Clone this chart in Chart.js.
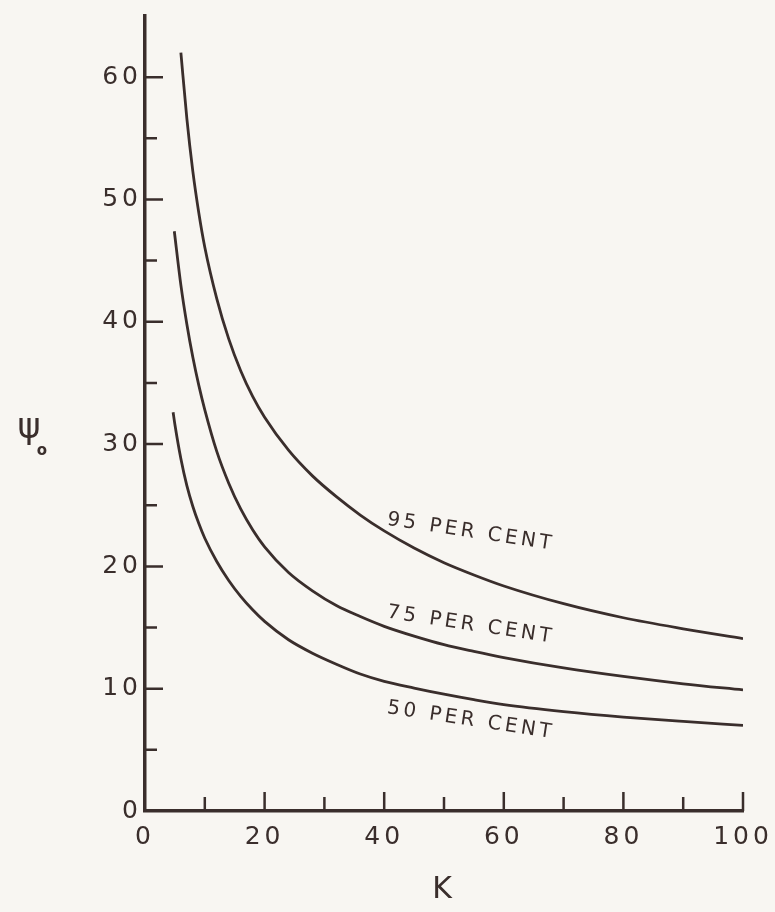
<!DOCTYPE html>
<html>
<head>
<meta charset="utf-8">
<script src="https://cdn.jsdelivr.net/npm/chart.js@4.4.1/dist/chart.umd.min.js"></script>
<style>
html, body { margin: 0; padding: 0; background: #f8f6f2; }
#wrap { width: 775px; height: 912px; }
</style>
</head>
<body>
<div id="wrap"><canvas id="psiChart" width="775" height="912"></canvas></div>
<script>
// values
const k95 = [6, 7, 8, 9, 10, 12, 14, 16, 18, 20, 24, 28, 32, 36, 40, 45, 50, 55, 60, 70, 80, 90, 100];
const psi95 = [62.0, 56.6, 52.3, 48.9, 46.1, 41.9, 38.6, 36.0, 33.9, 32.2, 29.5, 27.4, 25.7, 24.2, 22.9, 21.5, 20.3, 19.3, 18.4, 16.95, 15.8, 14.9, 14.1];

const k75 = [4.9, 6, 7, 8, 9, 10, 12, 14, 16, 18, 20, 24, 28, 32, 36, 40, 45, 50, 55, 60, 70, 80, 90, 100];
const psi75 = [47.4, 43.0, 39.8, 37.1, 34.8, 32.8, 29.4, 26.8, 24.7, 23.0, 21.6, 19.5, 18.0, 16.8, 15.9, 15.1, 14.3, 13.6, 13.05, 12.55, 11.7, 11.0, 10.4, 9.9];

const k50 = [4.7, 5, 6, 7, 8, 9, 10, 12, 14, 16, 18, 20, 24, 28, 32, 36, 40, 45, 50, 55, 60, 70, 80, 90, 100];
const psi50 = [32.6, 31.6, 28.8, 26.6, 24.9, 23.5, 22.3, 20.4, 18.85, 17.55, 16.45, 15.5, 14.0, 12.9, 12.0, 11.2, 10.6, 10.05, 9.55, 9.1, 8.7, 8.13, 7.68, 7.32, 7.0];

const xTickLabels = [0, 20, 40, 60, 80, 100];
const xMinorTicks = [10, 30, 50, 70, 90];
const yTickLabels = [0, 10, 20, 30, 40, 50, 60];
const yMinorTicks = [5, 15, 25, 35, 45, 55];

const curveNames = ['95 PER CENT', '75 PER CENT', '50 PER CENT'];
const nameK = [54.5, 54.5, 54.5];
const namePsi = [22.8, 15.2, 7.4];

const ink = '#3a2e2c';
const paper = '#f8f6f2';
const font = '"DejaVu Sans", sans-serif';

function pts(ks, ps) {
    return ks.map((k, i) => ({ x: k, y: ps[i] }));
}

const paperBg = {
    id: 'paperBg',
    beforeDraw(chart) {
        const c = chart.ctx;
        c.save();
        c.fillStyle = paper;
        c.fillRect(0, 0, chart.width, chart.height);
        c.restore();
        // wide lettering for the tick labels
        c.letterSpacing = '4px';
    }
};

// inward tick marks, curve names and the psi label
const decorations = {
    id: 'decorations',
    afterDraw(chart) {
        const c = chart.ctx;
        const xs = chart.scales.x, ys = chart.scales.y;
        const left = chart.chartArea.left, bottom = chart.chartArea.bottom;
        c.save();
        c.strokeStyle = ink;
        c.lineWidth = 2.5;
        c.lineCap = 'butt';
        c.beginPath();
        xTickLabels.slice(1).forEach(v => {
            const px = xs.getPixelForValue(v);
            c.moveTo(px, bottom); c.lineTo(px, bottom - 19);
        });
        xMinorTicks.forEach(v => {
            const px = xs.getPixelForValue(v);
            c.moveTo(px, bottom); c.lineTo(px, bottom - 14);
        });
        yTickLabels.slice(1).forEach(v => {
            const py = ys.getPixelForValue(v);
            c.moveTo(left, py); c.lineTo(left + 18, py);
        });
        yMinorTicks.forEach(v => {
            const py = ys.getPixelForValue(v);
            c.moveTo(left, py); c.lineTo(left + 12, py);
        });
        c.stroke();

        c.fillStyle = ink;
        c.textAlign = 'center';
        c.textBaseline = 'middle';
        c.font = '20px ' + font;
        c.letterSpacing = '3.5px';
        curveNames.forEach((t, i) => {
            c.save();
            c.translate(xs.getPixelForValue(nameK[i]), ys.getPixelForValue(namePsi[i]));
            c.rotate(0.15);
            c.fillText(t, 0, 0);
            c.restore();
        });
        c.letterSpacing = '0px';

        c.font = '35px ' + font;
        c.fillText('ψ', 29, ys.getPixelForValue(31.2));
        c.font = 'bold 15px ' + font;
        c.fillText('o', 42, ys.getPixelForValue(29.4));
        c.restore();
    }
};

const line = (label, data) => ({
    label: label,
    data: data,
    borderColor: ink,
    borderWidth: 2.8,
    pointRadius: 0,
    showLine: true,
    fill: false,
    cubicInterpolationMode: 'monotone'
});

const ctx = document.getElementById('psiChart').getContext('2d');
const psiChart = new Chart(ctx, {
    type: 'scatter',
    data: {
        datasets: [
            line('95 per cent', pts(k95, psi95)),
            line('75 per cent', pts(k75, psi75)),
            line('50 per cent', pts(k50, psi50))
        ]
    },
    options: {
        responsive: false,
        animation: false,
        devicePixelRatio: 1,
        layout: { padding: { top: 16, right: 32, left: 0, bottom: 0 } },
        plugins: {
            legend: { display: false },
            tooltip: { enabled: false }
        },
        scales: {
            x: {
                type: 'linear',
                min: 0,
                max: 100,
                afterBuildTicks: s => { s.ticks = xTickLabels.map(v => ({ value: v })); },
                afterFit: s => { s.height = 101; s.paddingLeft = 0; s.paddingRight = 0; },
                grid: { display: false, drawTicks: false },
                border: { display: true, color: ink, width: 3.5 },
                ticks: { color: ink, padding: 11, font: { family: font, size: 25 } },
                title: {
                    display: true,
                    text: 'K',
                    color: ink,
                    padding: { top: 18 },
                    font: { family: font, size: 30 }
                }
            },
            y: {
                type: 'linear',
                min: 0,
                max: 65,
                afterBuildTicks: s => { s.ticks = yTickLabels.map(v => ({ value: v })); },
                afterFit: s => { s.width = 145; s.paddingTop = 0; s.paddingBottom = 0; },
                grid: { display: false, drawTicks: false },
                border: { display: true, color: ink, width: 3.5 },
                ticks: { color: ink, padding: 3, font: { family: font, size: 25 } }
            }
        }
    },
    plugins: [paperBg, decorations]
});
</script>
</body>
</html>
